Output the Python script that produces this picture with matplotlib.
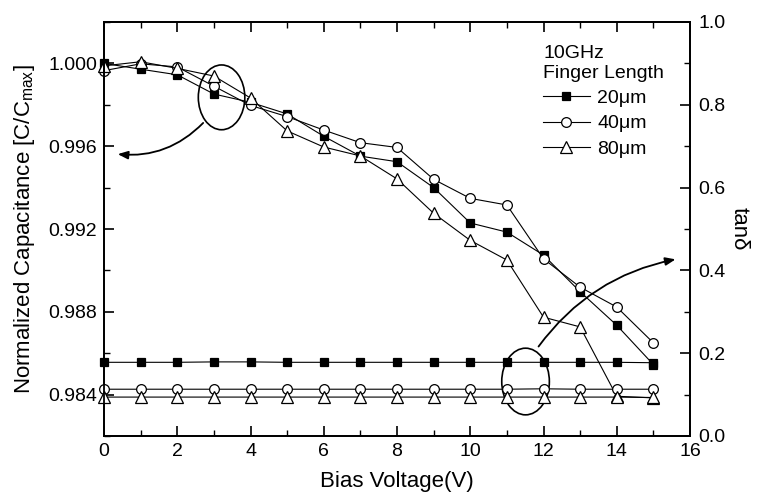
import matplotlib
matplotlib.use("Agg")
import matplotlib.pyplot as plt
from matplotlib.patches import Ellipse, FancyArrowPatch
from matplotlib.lines import Line2D
from matplotlib.ticker import MultipleLocator, FormatStrFormatter

plt.rcParams['font.family'] = ['Liberation Sans', 'DejaVu Sans']
plt.rcParams['mathtext.fontset'] = 'custom'
plt.rcParams['mathtext.rm'] = 'Liberation Sans'
plt.rcParams['mathtext.it'] = 'Liberation Sans:italic'

# ---- data ----
bias = list(range(16))
cap_20 = [1.00000, 0.99972, 0.99945, 0.99852, 0.99812, 0.99756, 0.99648, 0.99552,
          0.99525, 0.99400, 0.99229, 0.99185, 0.99074, 0.98897, 0.98735, 0.98545]
cap_40 = [0.99965, 0.99998, 0.99983, 0.99890, 0.99797, 0.99743, 0.99678, 0.99617,
          0.99594, 0.99440, 0.99348, 0.99316, 0.99056, 0.98919, 0.98823, 0.98650]
cap_80 = [0.99988, 1.00008, 0.99976, 0.99939, 0.99833, 0.99674, 0.99596, 0.99553,
          0.99442, 0.99276, 0.99145, 0.99050, 0.98774, 0.98727, 0.98392, 0.98384]
tan_20 = [0.178, 0.178, 0.178, 0.179, 0.179, 0.178, 0.178, 0.178,
          0.178, 0.178, 0.178, 0.178, 0.178, 0.178, 0.178, 0.177]
tan_40 = [0.113, 0.113, 0.113, 0.113, 0.113, 0.113, 0.113, 0.113,
          0.113, 0.113, 0.113, 0.113, 0.114, 0.113, 0.113, 0.113]
tan_80 = [0.094, 0.094, 0.094, 0.094, 0.094, 0.094, 0.094, 0.094,
          0.094, 0.094, 0.094, 0.094, 0.094, 0.094, 0.094, 0.093]
labels = ['20\u03bcm', '40\u03bcm', '80\u03bcm']

fig = plt.figure(figsize=(7.59, 5.01), dpi=100)
ax = fig.add_axes([104/759, 1-436/501, 586/759, 414/501])
ax2 = ax.twinx()

lw = 0.8
sty = [dict(marker='s', mfc='black', mec='black', ms=6),
       dict(marker='o', mfc='white', mec='black', ms=7),
       dict(marker='^', mfc='white', mec='black', ms=8)]

for y, s in zip([cap_20, cap_40, cap_80], sty):
    ax.plot(bias, y, color='black', lw=lw, mew=0.9, clip_on=False, **s)
for y, s in zip([tan_20, tan_40, tan_80], sty):
    ax2.plot(bias, y, color='black', lw=lw, mew=0.9, clip_on=False, **s)

ax.set_xlim(0, 16)
ax.set_ylim(0.982, 1.002)
ax2.set_ylim(0.0, 1.0)
ax.xaxis.set_major_locator(MultipleLocator(2))
ax.xaxis.set_minor_locator(MultipleLocator(1))
ax.yaxis.set_major_locator(MultipleLocator(0.004))
ax.yaxis.set_minor_locator(MultipleLocator(0.002))
ax2.yaxis.set_major_locator(MultipleLocator(0.2))
ax2.yaxis.set_minor_locator(MultipleLocator(0.1))
ax.yaxis.set_major_formatter(FormatStrFormatter('%.3f'))
ax2.yaxis.set_major_formatter(FormatStrFormatter('%.1f'))

ax.tick_params(axis='x', which='both', direction='in', top=True, labelsize=14, pad=5)
ax.tick_params(axis='y', which='both', direction='in', right=False, labelsize=14, pad=5)
ax2.tick_params(axis='y', which='both', direction='in', labelsize=14, pad=6)
for a in (ax, ax2):
    a.tick_params(which='major', length=7, width=1.2)
    a.tick_params(which='minor', length=4, width=1.0)
    for sp in a.spines.values():
        sp.set_linewidth(1.3)

ax.set_xlabel('Bias Voltage(V)', fontsize=16, labelpad=8)
ax.set_ylabel(r'Normalized Capacitance [C/C$_{\mathrm{max}}$]', fontsize=16, labelpad=8)
ax2.set_ylabel('tan\u03b4', fontsize=16, rotation=270, labelpad=17)

# annotations
e1 = Ellipse((3.21, 0.99836), 1.27, 0.00313, fill=False, lw=1.2, ec='black')
ax.add_patch(e1)
ar1 = FancyArrowPatch((2.76, 0.99722), (0.3, 0.99563), transform=ax.transData,
                      connectionstyle='arc3,rad=-0.25',
                      arrowstyle='-|>,head_length=0.5,head_width=0.2',
                      mutation_scale=12, lw=1.3, color='black')
ax.add_patch(ar1)
e2 = Ellipse((11.51, 0.1316), 1.3, 0.161, fill=False, lw=1.2, ec='black')
ax2.add_patch(e2)
ar2 = FancyArrowPatch((11.82, 0.2107), (15.68, 0.428), transform=ax2.transData,
                      connectionstyle='arc3,rad=-0.2',
                      arrowstyle='-|>,head_length=0.5,head_width=0.2',
                      mutation_scale=12, lw=1.3, color='black')
ax2.add_patch(ar2)

handles = [Line2D([], [], color='black', lw=lw, mew=0.9, **s) for s in sty]
leg = ax2.legend(handles, labels, title='10GHz\nFinger Length', alignment='left',
                 frameon=False, loc='upper left',
                 bbox_to_anchor=((543-104)/586, 1-(45-22)/414),
                 borderpad=0, borderaxespad=0, fontsize=14, title_fontsize=14,
                 handlelength=2.4, handletextpad=0.4, labelspacing=0.4)

fig.savefig('out.png', dpi=100)
